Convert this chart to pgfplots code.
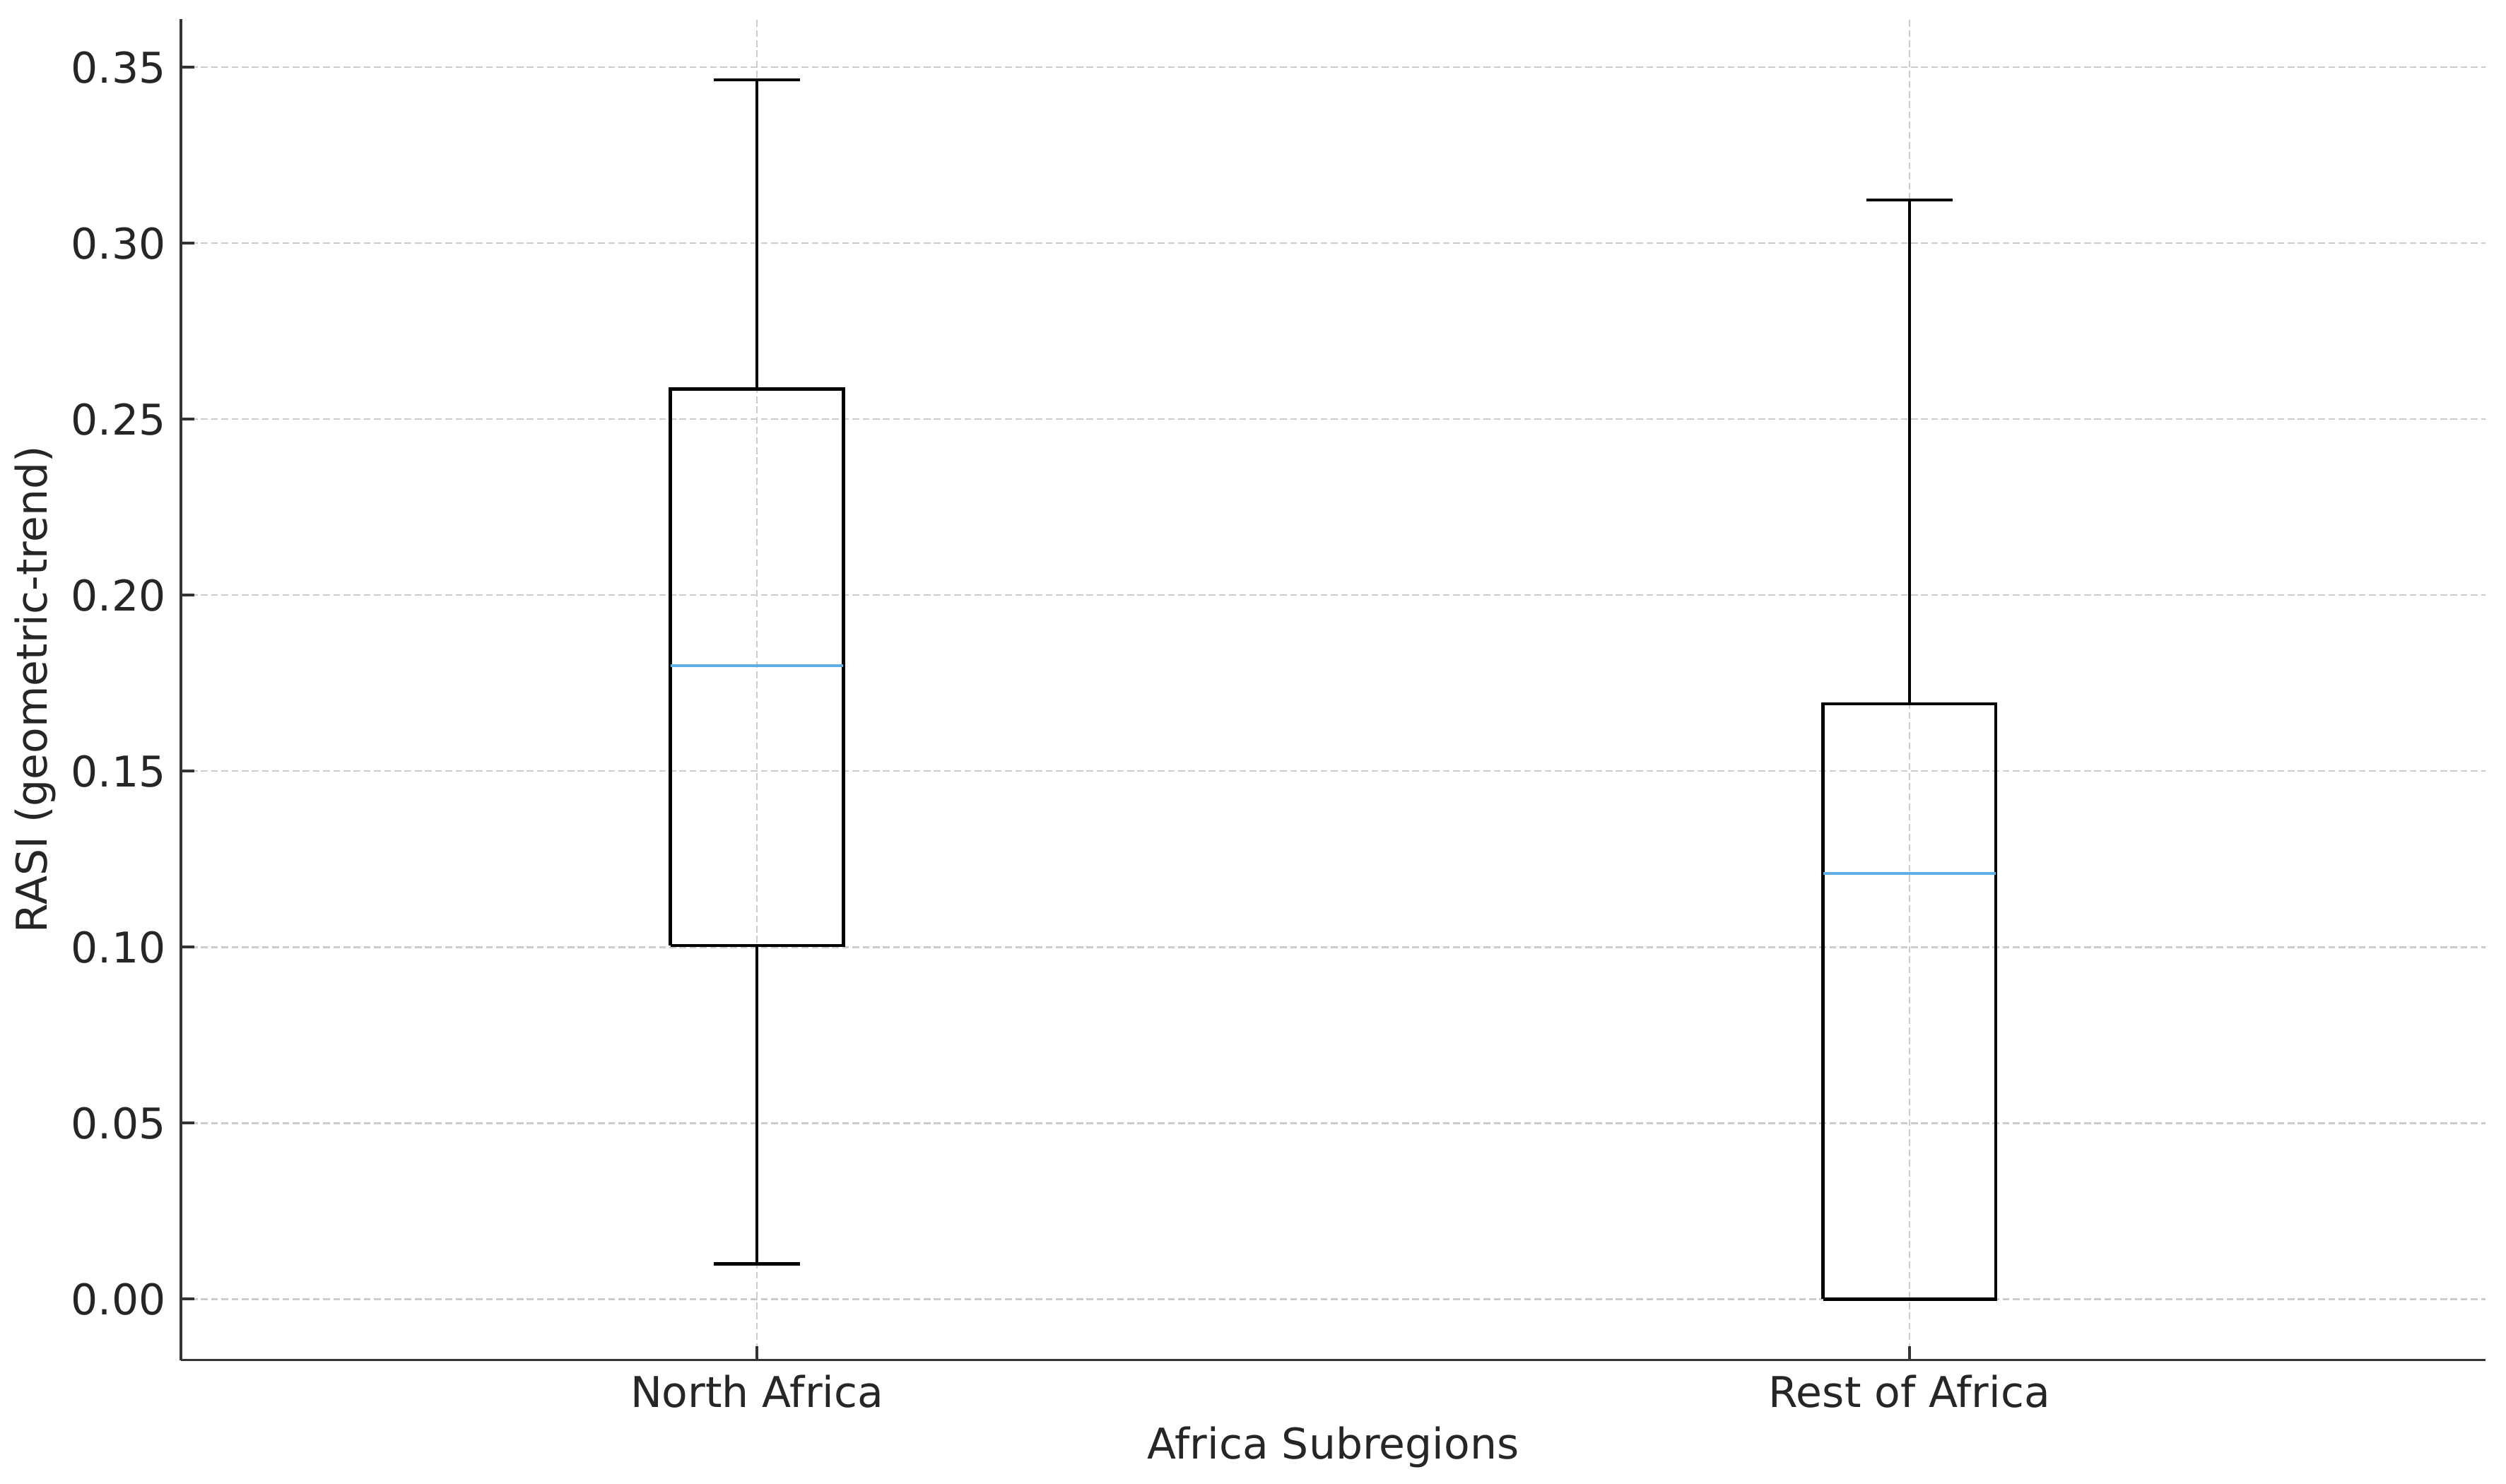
\documentclass[border=0pt]{standalone}
\usepackage{fontspec}
\setmainfont{DejaVu Sans}
\usepackage{pgfplots}
\pgfplotsset{compat=1.18}
\definecolor{medblue}{RGB}{93,175,230}
\definecolor{gridgray}{RGB}{204,204,204}
\definecolor{spine}{RGB}{51,51,51}
\definecolor{txt}{RGB}{38,38,38}
\begin{document}
\begin{tikzpicture}
\begin{axis}[
  scale only axis, width=543.5pt, height=316.2pt,
  xmin=0.5, xmax=2.5, ymin=-0.0173, ymax=0.3637,
  axis x line*=bottom, axis y line*=left,
  axis line style={spine, line width=0.65pt, -},
  xtick={1,2}, xticklabels={North Africa, Rest of Africa},
  ytick={0,0.05,0.10,0.15,0.20,0.25,0.30,0.35},
  yticklabel style={/pgf/number format/.cd, fixed, fixed zerofill, precision=2},
  /pgf/number format/assume math mode=true,
  tick style={spine, line width=0.65pt}, major tick length=3.2pt, tick align=inside,
  grid=major, major grid style={gridgray, dash pattern=on 1.6pt off 0.8pt, line width=0.4pt},
  ticklabel style={font=\fontsize{10}{12}\selectfont, text=txt},
  label style={font=\fontsize{10}{12}\selectfont, text=txt},
  xlabel={Africa Subregions}, ylabel={RASI (geometric-trend)},
  xlabel style={at={(axis description cs:0.5,-0.074)}, anchor=base},
  ylabel style={at={(axis description cs:-0.0631,0.5)}, anchor=center},
  every axis plot/.append style={line width=0.75pt, mark=none},
]
% North Africa: whiskers 0.0100 / 0.3464, quartiles 0.1005 / 0.2586, median 0.1800
\addplot[black] coordinates {(0.925,0.1005) (1.075,0.1005) (1.075,0.2586) (0.925,0.2586) (0.925,0.1005)};
\addplot[black] coordinates {(1,0.1005) (1,0.0100)};
\addplot[black] coordinates {(1,0.2586) (1,0.3464)};
\addplot[black] coordinates {(0.9625,0.0100) (1.0375,0.0100)};
\addplot[black] coordinates {(0.9625,0.3464) (1.0375,0.3464)};
\addplot[medblue] coordinates {(0.925,0.1800) (1.075,0.1800)};
% Rest of Africa: whiskers 0.0000 / 0.3123, quartiles 0.0000 / 0.1691, median 0.1209
\addplot[black] coordinates {(1.925,0.0000) (2.075,0.0000) (2.075,0.1691) (1.925,0.1691) (1.925,0.0000)};
\addplot[black] coordinates {(2,0.1691) (2,0.3123)};
\addplot[black] coordinates {(1.9625,0.0000) (2.0375,0.0000)};
\addplot[black] coordinates {(1.9625,0.3123) (2.0375,0.3123)};
\addplot[medblue] coordinates {(1.925,0.1209) (2.075,0.1209)};
\coordinate (ll) at (rel axis cs:0,0);
\coordinate (ur) at (rel axis cs:1,1);
\end{axis}
\pgfresetboundingbox
\path ([xshift=-42.6pt,yshift=-29.1pt]ll) rectangle ([xshift=4.8pt,yshift=4.5pt]ur);
\end{tikzpicture}
\end{document}
